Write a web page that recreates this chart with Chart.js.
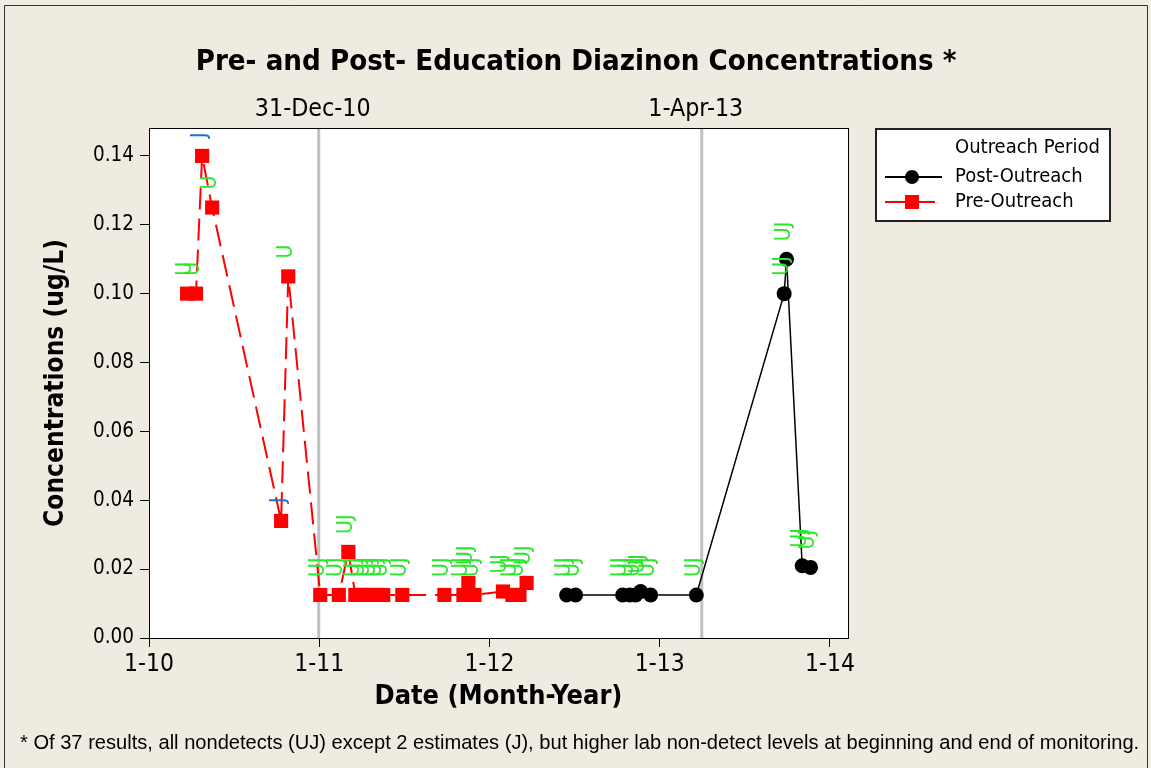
<!DOCTYPE html>
<html>
<head>
<meta charset="utf-8">
<script src="https://cdn.jsdelivr.net/npm/chart.js@4.4.1/dist/chart.umd.min.js"></script>
<style>
html,body{margin:0;padding:0;background:#efebe1;}
canvas{display:block;}
</style>
</head>
<body>
<canvas id="c" width="1151" height="768"></canvas>
<script>
// ---------------- DATA ----------------
const seriesNames = ['Post-Outreach', 'Pre-Outreach'];
const legendTitle = 'Outreach Period';
const chartTitle = 'Pre- and Post- Education Diazinon Concentrations *';
const xAxisTitle = 'Date (Month-Year)';
const yAxisTitle = 'Concentrations (ug/L)';
const footnote = '* Of 37 results, all nondetects (UJ) except 2 estimates (J), but higher lab non-detect levels at beginning and end of monitoring.';

// dates as decimal years
const preX = [2010.224, 2010.276, 2010.312, 2010.371, 2010.776, 2010.818, 2011.006, 2011.115, 2011.171,
  2011.212, 2011.241, 2011.271, 2011.306, 2011.341, 2011.376, 2011.488, 2011.735,
  2011.847, 2011.876, 2011.912, 2012.079, 2012.135, 2012.176, 2012.218];
const preY = [0.100, 0.100, 0.140, 0.125, 0.034, 0.105, 0.0125, 0.0125, 0.025,
  0.0125, 0.0125, 0.0125, 0.0125, 0.0125, 0.0125, 0.0125, 0.0125,
  0.0125, 0.016, 0.0125, 0.0135, 0.0125, 0.0125, 0.016];
const preLabels = ['U', 'U', 'J', 'U', 'J', 'U', 'UJ', 'UJ', 'UJ',
  'UJ', 'UJ', 'UJ', 'UJ', 'UJ', 'UJ', 'UJ', 'UJ',
  'UJ', 'UJ', 'UJ', 'UJ', 'UJ', 'UJ', 'UJ'];

const postX = [2012.453, 2012.506, 2012.782, 2012.824, 2012.859, 2012.888, 2012.947, 2013.215,
  2013.731, 2013.745, 2013.837, 2013.886];
const postY = [0.0125, 0.0125, 0.0125, 0.0125, 0.0125, 0.0135, 0.0125, 0.0125,
  0.100, 0.110, 0.021, 0.0205];
const postLabels = ['UJ', 'UJ', 'UJ', 'UJ', 'UJ', 'UJ', 'UJ', 'UJ', 'UJ', 'UJ', 'UJ', 'UJ'];

const refLineX = [2010.997, 2013.247];
const refLineLabels = ['31-Dec-10', '1-Apr-13'];

const xTickValues = [2010, 2011, 2012, 2013, 2014];
const xTickLabels = ['1-10', '1-11', '1-12', '1-13', '1-14'];
const yTickValues = [0, 0.02, 0.04, 0.06, 0.08, 0.10, 0.12, 0.14];
const yTickLabels = ['0.00', '0.02', '0.04', '0.06', '0.08', '0.10', '0.12', '0.14'];

// ---------------- STYLE ----------------
const FAM = "'DejaVu Sans Condensed', 'DejaVu Sans', sans-serif";
const NARROW = "'Liberation Sans Narrow', 'Liberation Sans', Arial, sans-serif";
const mctx = document.createElement('canvas').getContext('2d');
function fit(text, weight, family, width) {
  mctx.font = weight + ' 100px ' + family;
  return 100 * width / mctx.measureText(text).width;
}
const titleSize = fit(chartTitle, 'bold', FAM, 761);
const yTitleSize = fit(yAxisTitle, 'bold', FAM, 288);
const xTitleSize = fit(xAxisTitle, 'bold', FAM, 248);
const xTickSize = fit('1-10', 'normal', FAM, 50);
const yTickSize = fit('0.14', 'normal', FAM, 41);
const refSize = fit(refLineLabels[0], 'normal', FAM, 116);
const legSize = fit(legendTitle, 'normal', FAM, 145);
const footSize = fit(footnote, 'normal', NARROW, 1120);
const lblSize = 21;

const GREEN = '#2ae82a';
const BLUE = '#2070d0';

const decorPlugin = {
  id: 'decor',
  beforeDraw(chart) {
    const {ctx, chartArea: a} = chart;
    ctx.save();
    ctx.fillStyle = '#efebe1';
    ctx.fillRect(0, 0, chart.width, chart.height);
    ctx.strokeStyle = '#333';
    ctx.lineWidth = 1;
    ctx.beginPath();
    ctx.moveTo(4.5, 800); ctx.lineTo(4.5, 5.5); ctx.lineTo(1147.5, 5.5); ctx.lineTo(1147.5, 800);
    ctx.stroke();
    ctx.fillStyle = '#ffffff';
    ctx.fillRect(a.left, a.top, a.right - a.left, a.bottom - a.top);
    ctx.restore();
  },
  beforeDatasetsDraw(chart) {
    const {ctx, chartArea: a, scales} = chart;
    ctx.save();
    ctx.strokeStyle = '#c0c0c0';
    ctx.lineWidth = 3;
    ctx.fillStyle = '#000';
    ctx.font = refSize + 'px ' + FAM;
    ctx.textAlign = 'center';
    ctx.textBaseline = 'middle';
    refLineX.forEach((v, i) => {
      const px = scales.x.getPixelForValue(v);
      ctx.beginPath(); ctx.moveTo(px, a.top); ctx.lineTo(px, a.bottom); ctx.stroke();
      ctx.fillText(refLineLabels[i], px - 6, 110);
    });
    ctx.restore();
  },
  afterDatasetsDraw(chart) {
    const {ctx, chartArea: a} = chart;
    ctx.save();
    // point labels
    ctx.font = lblSize + 'px ' + FAM;
    ctx.textAlign = 'left';
    ctx.textBaseline = 'middle';
    chart.data.datasets.forEach((ds, di) => {
      const meta = chart.getDatasetMeta(di);
      meta.data.forEach((pt, i) => {
        const t = ds.pointLabels[i];
        ctx.save();
        ctx.translate(pt.x - 2, pt.y - 18);
        ctx.rotate(-Math.PI / 2);
        ctx.fillStyle = t === 'J' ? BLUE : GREEN;
        ctx.fillText(t, 0, 0);
        ctx.restore();
      });
    });
    // frame
    ctx.strokeStyle = '#000';
    ctx.lineWidth = 1;
    ctx.strokeRect(Math.round(a.left) + 0.5, Math.round(a.top) + 0.5, Math.round(a.right - a.left), Math.round(a.bottom - a.top));
    ctx.restore();
  },
  afterDraw(chart) {
    const {ctx} = chart;
    ctx.save();
    ctx.fillStyle = '#000';
    ctx.textBaseline = 'middle';
    // title
    ctx.font = 'bold ' + titleSize + 'px ' + FAM;
    ctx.textAlign = 'center';
    ctx.fillText(chartTitle, 576, 62);
    // legend
    const L = 875, T = 128, R = 1111, B = 222;
    ctx.fillStyle = '#fff';
    ctx.fillRect(L, T, R - L, B - T);
    ctx.strokeStyle = '#222';
    ctx.lineWidth = 2;
    ctx.strokeRect(L + 1, T + 1, R - L - 2, B - T - 2);
    ctx.fillStyle = '#000';
    ctx.font = legSize + 'px ' + FAM;
    ctx.textAlign = 'left';
    ctx.fillText(legendTitle, 955, 148);
    const ds = chart.data.datasets;
    const rows = [177, 202];
    ds.forEach((d, i) => {
      const y = rows[i];
      ctx.strokeStyle = d.borderColor;
      ctx.lineWidth = 2;
      ctx.beginPath(); ctx.moveTo(885, y); ctx.lineTo(i === 0 ? 942 : 935, y); ctx.stroke();
      ctx.fillStyle = d.pointBackgroundColor;
      if (d.pointStyle === 'circle') {
        ctx.beginPath(); ctx.arc(912, y, 7, 0, Math.PI * 2); ctx.fill();
      } else {
        ctx.fillRect(905, y - 7, 14, 14);
      }
      ctx.fillStyle = '#000';
      ctx.fillText(d.label, 955, y);
    });
    // footnote
    ctx.font = footSize + 'px ' + NARROW;
    ctx.fillText(footnote, 20, 743);
    ctx.restore();
  }
};

const toPts = (xs, ys) => xs.map((x, i) => ({x: x, y: ys[i]}));

new Chart(document.getElementById('c'), {
  type: 'scatter',
  data: {
    datasets: [
      {
        label: seriesNames[0],
        data: toPts(postX, postY),
        pointLabels: postLabels,
        showLine: true,
        borderColor: '#000000',
        borderWidth: 1.5,
        pointStyle: 'circle',
        pointRadius: 7.5,
        pointBackgroundColor: '#000000',
        pointBorderColor: '#000000',
        pointBorderWidth: 0
      },
      {
        label: seriesNames[1],
        data: toPts(preX, preY),
        pointLabels: preLabels,
        showLine: true,
        borderColor: '#ff0000',
        borderWidth: 2,
        borderDash: [22, 9],
        pointStyle: 'rect',
        pointRadius: 10,
        pointBackgroundColor: '#ff0000',
        pointBorderColor: '#ff0000',
        pointBorderWidth: 0
      }
    ]
  },
  options: {
    responsive: false,
    animation: false,
    devicePixelRatio: 1,
    layout: {padding: {left: 0, right: 303, top: 128, bottom: 0}},
    plugins: {legend: {display: false}, title: {display: false}, tooltip: {enabled: false}},
    scales: {
      x: {
        type: 'linear',
        min: 2010,
        max: 2014.106,
        afterBuildTicks: s => { s.ticks = xTickValues.map(v => ({value: v})); },
        afterFit: s => { s.height = 130; },
        ticks: {
          autoSkip: false,
          maxRotation: 0,
          padding: 3,
          color: '#000',
          font: {family: FAM, size: xTickSize},
          callback: v => xTickLabels[xTickValues.indexOf(v)]
        },
        grid: {drawOnChartArea: false, drawTicks: true, tickLength: 9, color: '#000'},
        border: {display: true, color: '#000'},
        title: {
          display: true, text: xAxisTitle, color: '#000',
          font: {family: FAM, size: xTitleSize, weight: 'bold'},
          padding: {top: 0, bottom: 71 - xTitleSize * 0.6}
        }
      },
      y: {
        type: 'linear',
        min: 0,
        max: 0.1481,
        afterBuildTicks: s => { s.ticks = yTickValues.map(v => ({value: v})); },
        afterFit: s => { s.width = 149; },
        ticks: {
          padding: 6,
          color: '#000',
          font: {family: FAM, size: yTickSize},
          callback: v => yTickLabels[yTickValues.indexOf(v)]
        },
        grid: {drawOnChartArea: false, drawTicks: true, tickLength: 9, color: '#000'},
        border: {display: true, color: '#000'},
        title: {
          display: true, text: yAxisTitle, color: '#000',
          font: {family: FAM, size: yTitleSize, weight: 'bold'},
          padding: {top: 56 - yTitleSize * 0.6, bottom: 0}
        }
      }
    }
  },
  plugins: [decorPlugin]
});
</script>
</body>
</html>
